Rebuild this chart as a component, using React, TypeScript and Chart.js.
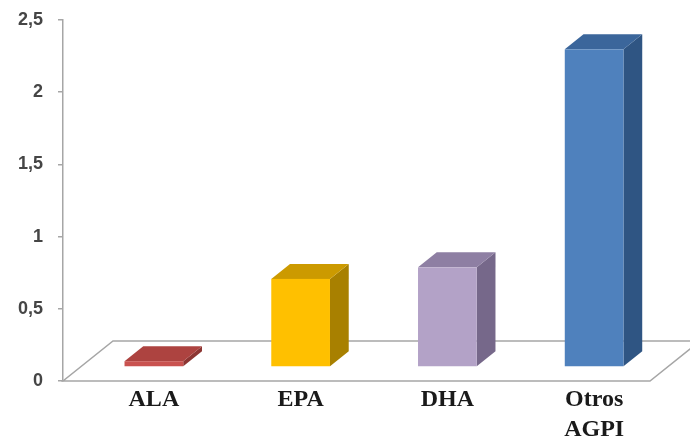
import React, { useEffect, useRef } from "react";
import { Chart, registerables } from "chart.js";

Chart.register(...registerables);

// ---- data ----
const categories: string[][] = [["ALA"], ["EPA"], ["DHA"], ["Otros", "AGPI"]];
const values: number[] = [0.04, 0.61, 0.69, 2.2];
const yMin = 0;
const yMax = 2.5;
const yStep = 0.5;

// ---- styles ----
const frontColors = ["#c9524f", "#ffc000", "#b3a2c7", "#4f81bd"];
const topColors = ["#ad4340", "#cc9a00", "#8e7fa3", "#3b669b"];
const sideColors = ["#8c3532", "#a88000", "#76688a", "#2f5583"];

const DEPTH_X = 18.75; // bar depth (horizontal)
const DEPTH_Y = -15; // bar depth (vertical)
const OFF_X = 17.5; // bar placement inside floor
const OFF_Y = -14;
const FLOOR_X = 50;
const FLOOR_Y = -40;

const bar3dPlugin = {
  id: "bar3d",
  beforeDatasetsDraw(chart: any) {
    const { ctx, chartArea } = chart;
    const { left, right, bottom } = chartArea;
    ctx.save();
    ctx.beginPath();
    ctx.moveTo(left, bottom);
    ctx.lineTo(right, bottom);
    ctx.lineTo(right + FLOOR_X, bottom + FLOOR_Y);
    ctx.lineTo(left + FLOOR_X, bottom + FLOOR_Y);
    ctx.closePath();
    ctx.fillStyle = "#ffffff";
    ctx.fill();
    ctx.strokeStyle = "#a6a6a6";
    ctx.lineWidth = 1.5;
    ctx.stroke();
    ctx.restore();
  },
  afterDatasetsDraw(chart: any) {
    const { ctx } = chart;
    const meta = chart.getDatasetMeta(0);
    ctx.save();
    meta.data.forEach((el: any, i: number) => {
      const { x, y, base, width } = el.getProps(["x", "y", "base", "width"], true);
      const l = x - width / 2 + OFF_X;
      const r = x + width / 2 + OFF_X;
      const t = y + OFF_Y;
      const b = base + OFF_Y;
      // side
      ctx.beginPath();
      ctx.moveTo(r, t);
      ctx.lineTo(r + DEPTH_X, t + DEPTH_Y);
      ctx.lineTo(r + DEPTH_X, b + DEPTH_Y);
      ctx.lineTo(r, b);
      ctx.closePath();
      ctx.fillStyle = sideColors[i];
      ctx.fill();
      // top
      ctx.beginPath();
      ctx.moveTo(l, t);
      ctx.lineTo(r, t);
      ctx.lineTo(r + DEPTH_X, t + DEPTH_Y);
      ctx.lineTo(l + DEPTH_X, t + DEPTH_Y);
      ctx.closePath();
      ctx.fillStyle = topColors[i];
      ctx.fill();
      // front
      ctx.fillStyle = frontColors[i];
      ctx.fillRect(l, t, r - l, b - t);
    });
    // category labels
    ctx.fillStyle = "#1a1a1a";
    ctx.font = "bold 24px 'Liberation Serif'";
    ctx.textAlign = "center";
    ctx.textBaseline = "alphabetic";
    meta.data.forEach((el: any, i: number) => {
      const { x } = el.getProps(["x"], true);
      const lines = categories[i];
      lines.forEach((line, j) => {
        ctx.fillText(line, x + OFF_X, 406 + j * 30);
      });
    });
    ctx.restore();
  },
};

export default function App() {
  const ref = useRef<HTMLCanvasElement | null>(null);

  useEffect(() => {
    document.body.style.margin = "0";
    if (!ref.current) return;
    const chart = new Chart(ref.current, {
      type: "bar",
      data: {
        labels: categories.map((c) => c.join(" ")),
        datasets: [
          {
            data: values,
            backgroundColor: "rgba(0,0,0,0)",
            borderWidth: 0,
            barPercentage: 0.4,
            categoryPercentage: 1,
          },
        ],
      },
      options: {
        responsive: false,
        animation: false,
        events: [],
        layout: { padding: { left: 0, right: 40, top: 20, bottom: 58 } },
        plugins: {
          legend: { display: false },
          tooltip: { enabled: false },
          title: { display: false },
        },
        scales: {
          x: { display: false },
          y: {
            min: yMin,
            max: yMax,
            afterFit: (s: any) => {
              s.width = 63;
              s.paddingTop = 0;
              s.paddingBottom = 0;
            },
            ticks: {
              stepSize: yStep,
              padding: 15,
              color: "#454545",
              font: { family: "'Liberation Sans'", size: 18, weight: "bold" },
              callback: (v: any) => String(v).replace(".", ","),
            },
            grid: {
              display: true,
              drawOnChartArea: false,
              drawTicks: true,
              tickLength: 5,
              color: "#a6a6a6",
              lineWidth: 1.5,
            },
            border: { display: true, color: "#a6a6a6", width: 1.5 },
          },
        },
      },
      plugins: [bar3dPlugin],
    });
    return () => chart.destroy();
  }, []);

  return <canvas ref={ref} width={690} height={439} style={{ display: "block" }} />;
}
